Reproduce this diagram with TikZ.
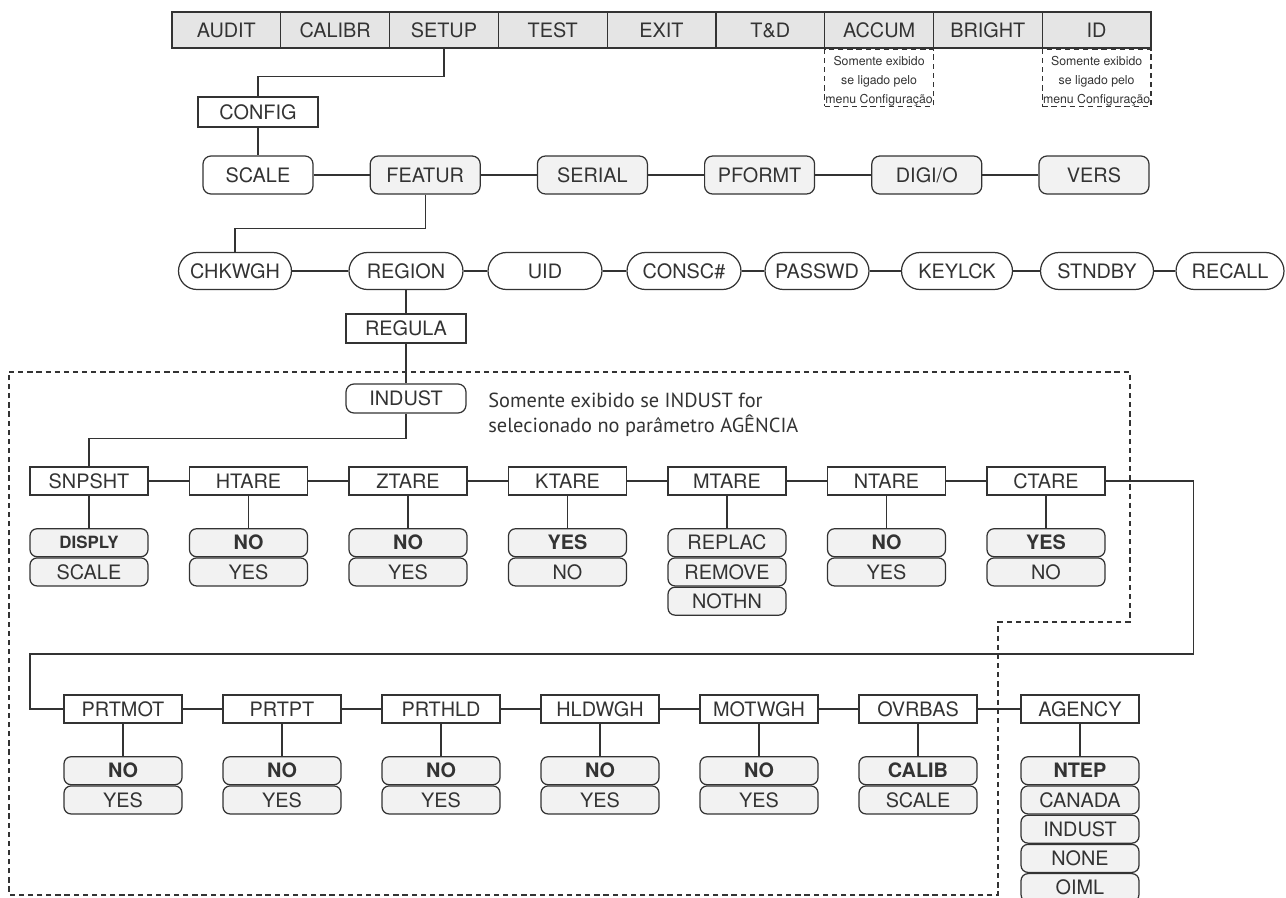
\documentclass[tikz,border=0pt]{standalone}
\usepackage{fontspec}
\setmainfont{TeX Gyre Heros}
\newfontfamily\avisofont{PT Sans}
\usetikzlibrary{positioning}
\definecolor{linha}{gray}{0.2}
\definecolor{barracor}{gray}{0.9}
\definecolor{claro}{gray}{0.95}
\newcommand{\rotulo}{\fontsize{11.3}{13}\selectfont}
\newcommand{\miudo}{\fontsize{7.0}{10.8}\selectfont}
\tikzset{
  lig/.style={draw=linha, line width=0.7pt},
  tracejado/.style={draw=linha, line width=0.7pt, dash pattern=on 3pt off 2.2pt},
  barra/.style={draw=linha, line width=0.7pt, fill=barracor, minimum width=2.1756cm,
    minimum height=0.72cm, inner sep=0pt, font=\rotulo},
  nota/.style={tracejado, minimum width=2.1756cm, minimum height=1.14cm, inner sep=0pt,
    align=center, font=\miudo},
  caixa/.style={draw=linha, line width=0.7pt, fill=white, minimum width=2.36cm,
    minimum height=0.56cm, inner sep=0pt, font=\rotulo},
  menu/.style={draw=linha, line width=0.7pt, fill=claro, rounded corners=0.16cm,
    minimum width=2.2cm, minimum height=0.76cm, inner sep=0pt, font=\rotulo},
  oval/.style={draw=linha, line width=0.7pt, fill=white, rounded corners=0.37cm,
    minimum height=0.74cm, inner sep=0pt, font=\rotulo},
  opcao/.style={draw=linha, line width=0.7pt, fill=claro, rounded corners=0.14cm,
    minimum width=2.36cm, minimum height=0.56cm, inner sep=0pt, font=\rotulo},
}
\newcommand{\textonota}{\rule{0pt}{9pt}Somente exibido\\se ligado pelo\\menu Configuração}

\begin{document}
\begin{tikzpicture}[x=0.02cm, y=-0.02cm, text=linha]
  \useasboundingbox (0,0) rectangle (1286,897);
  % Area tracejada (so com INDUST)
  \draw[tracejado] (9,372) -- (1130,372) -- (1130,622) -- (998,622) -- (998,895) -- (9,895) -- cycle;
  % Barra superior
  \foreach \nome/\id [count=\i from 0] in {AUDIT/audit, CALIBR/calibr, SETUP/setup, TEST/test,
      EXIT/exit, T\&D/td, ACCUM/accum, BRIGHT/bright, ID/ident}
    \node[barra] (\id) at ({226.4+108.78*\i},30) {\nome};
  \node[nota, below=0pt of accum] (nota1) {\textonota};
  \node[nota, below=0pt of ident] (nota2) {\textonota};
  % SETUP -> CONFIG
  \node[caixa, minimum width=2.4cm, minimum height=0.6cm] (config) at (258,112) {CONFIG};
  \draw[lig] (setup.south) -- ++(0,28) -| (config.north);
  % Linha 2
  \node[menu, fill=white] (scale) at (258,175) {SCALE};
  \foreach \nome/\id [count=\i] in {FEATUR/featur, SERIAL/serial, PFORMT/pformt, {DIGI/O}/digio, VERS/vers}
    \node[menu] (\id) at ({258+167.2*\i},175) {\nome};
  \draw[lig] (config) -- (scale);
  \foreach \u/\v in {scale/featur, featur/serial, serial/pformt, pformt/digio, digio/vers}
    \draw[lig] (\u) -- (\v);
  % Linha 3
  \foreach \nome/\id/\x/\w in {CHKWGH/chkwgh/235/2.26, REGION/region/406/2.28, UID/uid/545/2.28,
      CONSC\#/consc/684/2.28, PASSWD/passwd/817/2.08, KEYLCK/keylck/957/2.22,
      STNDBY/stndby/1097/2.26, RECALL/recall/1230/2.16}
    \node[oval, minimum width=\w cm] (\id) at (\x,271) {\nome};
  \draw[lig] (featur.south) -- ++(0,34) -| (chkwgh.north);
  \foreach \u/\v in {chkwgh/region, region/uid, uid/consc, consc/passwd, passwd/keylck,
      keylck/stndby, stndby/recall}
    \draw[lig] (\u) -- (\v);
  % REGION -> REGULA -> INDUST
  \node[caixa, minimum width=2.4cm, minimum height=0.58cm] (regula) at (406,328.5) {REGULA};
  \node[caixa, rounded corners=0.16cm, minimum width=2.4cm, minimum height=0.58cm] (indust) at (406,398.5) {INDUST};
  \node[anchor=west, align=left, inner sep=0pt, font=\avisofont\fontsize{11.6}{14.4}\selectfont]
    (aviso) at (488,414.5) {Somente exibido se INDUST for\\selecionado no parâmetro AGÊNCIA};
  \draw[lig] (region) -- (regula);
  \draw[lig] (regula) -- (indust);
  % Taras
  \foreach \nome/\id [count=\i from 0] in {SNPSHT/snpsht, HTARE/htare, ZTARE/ztare, KTARE/ktare,
      MTARE/mtare, NTARE/ntare, CTARE/ctare}
    \node[caixa] (\id) at ({89+159.5*\i},481) {\nome};
  \draw[lig] (indust.south) -- ++(0,25) -| (snpsht.north);
  \foreach \u/\v in {snpsht/htare, htare/ztare, ztare/ktare, ktare/mtare, mtare/ntare, ntare/ctare}
    \draw[lig] (\u) -- (\v);
  \foreach \id/\a/\b in {snpsht/{\fontsize{9.6}{11}\selectfont\bfseries DISPLY}/SCALE,
      htare/{\bfseries NO}/YES, ztare/{\bfseries NO}/YES, ktare/{\bfseries YES}/NO,
      ntare/{\bfseries NO}/YES, ctare/{\bfseries YES}/NO}
  {
    \node[opcao, below=0.65cm of \id] (\id-1) {\a};
    \node[opcao, below=0pt of \id-1] (\id-2) {\b};
    \draw[lig] (\id) -- (\id-1);
  }
  \node[opcao, below=0.65cm of mtare] (mtare-1) {REPLAC};
  \node[opcao, below=0pt of mtare-1] (mtare-2) {REMOVE};
  \node[opcao, below=0pt of mtare-2] (mtare-3) {NOTHN};
  \draw[lig] (mtare) -- (mtare-1);
  % Retorno para a linha de baixo
  \coordinate (retorno) at (30,654);
  \foreach \nome/\id [count=\i from 0] in {PRTMOT/prtmot, PRTPT/prtpt, PRTHLD/prthld,
      HLDWGH/hldwgh, MOTWGH/motwgh, OVRBAS/ovrbas}
    \node[caixa] (\id) at ({123+159*\i},709) {\nome};
  \node[caixa] (agency) at (1080,709) {AGENCY};
  \draw[lig] (ctare.east) -- ++(88,0) |- (retorno) |- (prtmot.west);
  \foreach \u/\v in {prtmot/prtpt, prtpt/prthld, prthld/hldwgh, hldwgh/motwgh, motwgh/ovrbas,
      ovrbas/agency}
    \draw[lig] (\u) -- (\v);
  \foreach \id/\a/\b in {prtmot/NO/YES, prtpt/NO/YES, prthld/NO/YES, hldwgh/NO/YES,
      motwgh/NO/YES, ovrbas/CALIB/SCALE}
  {
    \node[opcao, below=0.65cm of \id] (\id-1) {\bfseries\a};
    \node[opcao, below=0pt of \id-1] (\id-2) {\b};
    \draw[lig] (\id) -- (\id-1);
  }
  % AGENCY
  \node[opcao, below=0.65cm of agency] (agency-1) {\bfseries NTEP};
  \node[opcao, below=0pt of agency-1] (agency-2) {CANADA};
  \node[opcao, below=0pt of agency-2] (agency-3) {INDUST};
  \node[opcao, below=0pt of agency-3] (agency-4) {NONE};
  \node[opcao, below=0pt of agency-4] (agency-5) {OIML};
  \draw[lig] (agency) -- (agency-1);
\end{tikzpicture}
\end{document}
